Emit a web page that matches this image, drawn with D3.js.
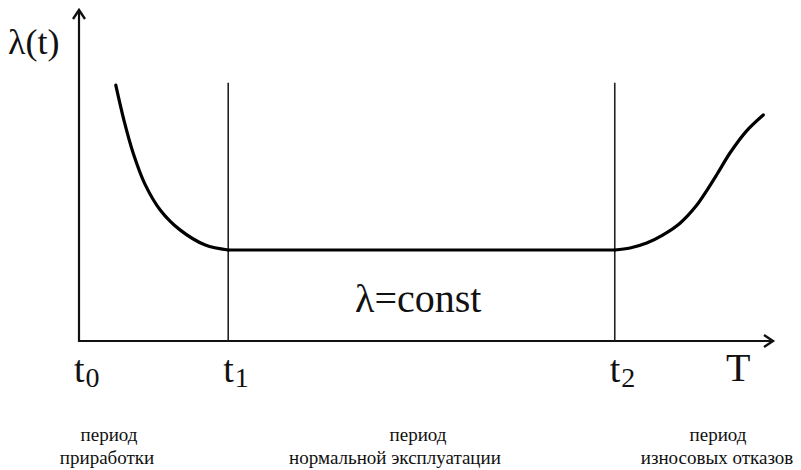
<!DOCTYPE html>
<html lang="ru">
<head>
  <meta charset="UTF-8">
  <script src="https://d3js.org/d3.v7.min.js"></script>
  <style>
    body { margin: 0; background: #fff; }
    svg text { font-family: "Liberation Serif", "Times New Roman", "DejaVu Serif", "Liberation Sans", sans-serif; fill: #111; }
  </style>
</head>
<body>
  <svg id="chart" width="801" height="470"></svg>
  <script>
    // curve points (t, lambda) in chart units
    const burnIn = [[0.53, 7.73], [0.65, 6.65], [0.78, 5.68], [0.95, 4.74], [1.17, 3.96], [1.46, 3.35],
      [1.82, 2.90], [2.15, 2.75]];
    const normal = [[2.15, 2.75], [7.72, 2.75]];
    const wearOut = [[7.72, 2.75], [7.94, 2.81], [8.18, 2.96], [8.41, 3.20], [8.66, 3.56], [8.90, 4.10],
      [9.05, 4.56], [9.20, 5.06], [9.38, 5.68], [9.62, 6.35], [9.86, 6.83]];
    // period boundaries
    const marks = [{ name: "0", t: 0 }, { name: "1", t: 2.15 }, { name: "2", t: 7.72 }];
    const markTop = 7.8;
    const periodLabels = [
      ["период", "приработки"],
      ["период", "нормальной эксплуатации"],
      ["период", "износовых отказов"]
    ];

    const svg = d3.select("#chart");
    const x = d3.scaleLinear().domain([0, 10]).range([79, 773]);
    const y = d3.scaleLinear().domain([0, 10]).range([341, 10]);

    // axes with open arrowheads
    svg.append("path")
      .attr("d", `M${x(0)},${y(10)} L${x(0)},${y(0)} L${x(10)},${y(0)}`)
      .attr("fill", "none").attr("stroke", "#111").attr("stroke-width", 2.2);
    svg.append("path")
      .attr("d", `M${x(0) - 6},${y(10) + 9} L${x(0)},${y(10)} L${x(0) + 6},${y(10) + 9}`)
      .attr("fill", "none").attr("stroke", "#111").attr("stroke-width", 2.4);
    svg.append("path")
      .attr("d", `M${x(10) - 9},${y(0) - 6} L${x(10)},${y(0)} L${x(10) - 9},${y(0) + 6}`)
      .attr("fill", "none").attr("stroke", "#111").attr("stroke-width", 2.4);

    // t1, t2 verticals
    svg.selectAll("line.mark").data(marks.slice(1)).join("line")
      .attr("class", "mark")
      .attr("x1", d => x(d.t)).attr("x2", d => x(d.t))
      .attr("y1", y(markTop)).attr("y2", y(0))
      .attr("stroke", "#222").attr("stroke-width", 1.6);

    // failure-rate curve
    const line = d3.line().x(d => x(d[0])).y(d => y(d[1])).curve(d3.curveCatmullRom.alpha(0.5));
    [burnIn, normal, wearOut].forEach(seg => {
      svg.append("path").attr("d", line(seg))
        .attr("fill", "none").attr("stroke", "#000").attr("stroke-width", 3.2)
        .attr("stroke-linecap", "round");
    });

    // axis labels
    svg.append("text").attr("x", 8).attr("y", 54).attr("font-size", 36).text("λ(t)");
    svg.append("text").attr("x", 726).attr("y", 381).attr("font-size", 40).text("T");

    const tl = svg.selectAll("text.tick").data(marks).join("text")
      .attr("class", "tick")
      .attr("x", d => x(d.t) - 5).attr("y", 382)
      .attr("font-size", 38);
    tl.append("tspan").text("t");
    tl.append("tspan").attr("font-size", 28).attr("dy", 5).attr("dx", 1).text(d => d.name);

    svg.append("text").attr("x", 355).attr("y", 312).attr("font-size", 40).text("λ=const");

    // period captions
    const capX = [[109, 107], [418, 395], [718, 717]];
    periodLabels.forEach((lines, i) => {
      lines.forEach((s, j) => {
        svg.append("text")
          .attr("x", capX[i][j]).attr("y", 441 + j * 23)
          .attr("text-anchor", "middle").attr("font-size", 19)
          .text(s);
      });
    });
  </script>
</body>
</html>
